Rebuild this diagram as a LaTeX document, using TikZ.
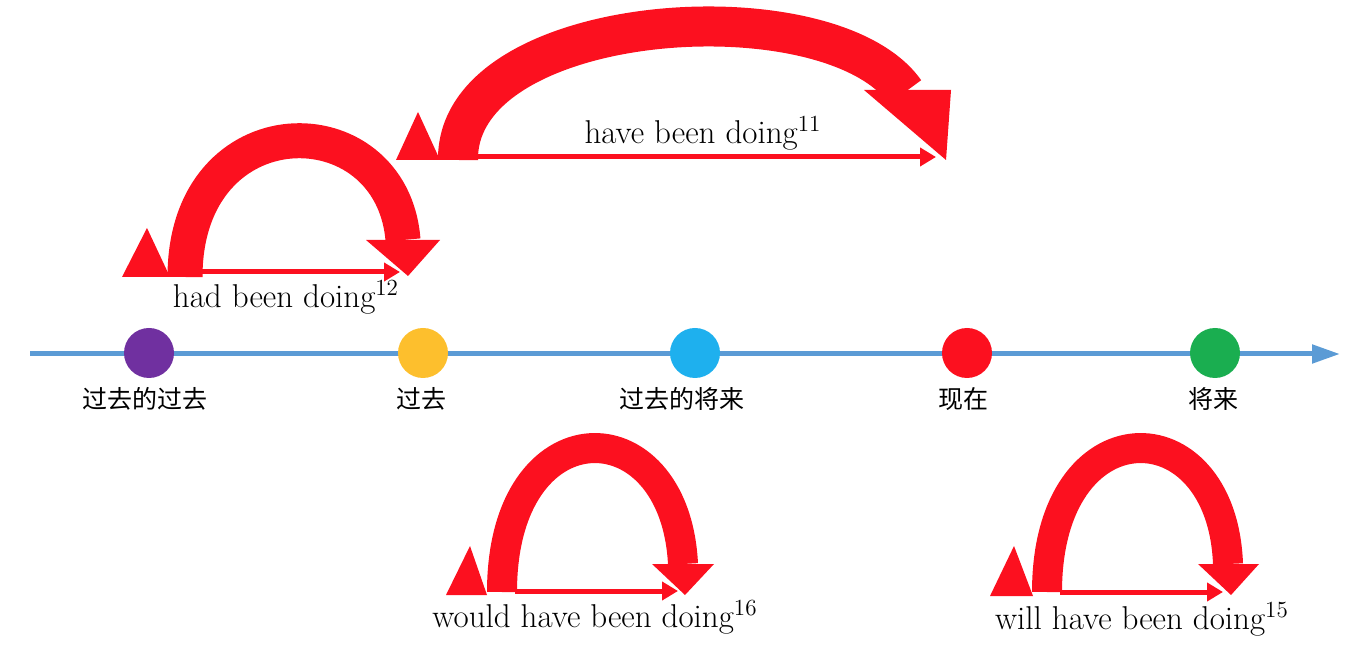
\documentclass[tikz,border=0pt]{standalone}
\usepackage{fontspec}
\newfontfamily\cjk{Noto Sans CJK SC}
\usetikzlibrary{arrows.meta}
\definecolor{rd}{HTML}{FC101F}
\definecolor{ax}{HTML}{5B9BD5}
\definecolor{cp}{HTML}{7030A0}
\definecolor{cy}{HTML}{FDBF2D}
\definecolor{cb}{HTML}{1EB0EE}
\definecolor{cr}{HTML}{FC101F}
\definecolor{cg}{HTML}{1AAE50}
\tikzset{
  band/.style={draw=rd},
  head/.style={fill=rd},
  thin/.style={draw=rd, line width=2.5pt, -{Triangle[length=8pt,width=9pt]}},
  dot/.style={circle, minimum size=25pt, inner sep=0pt, fill=#1},
  lab/.style={font=\cjk\fontsize{12.5}{14}\selectfont, inner sep=0pt},
  tense/.style={font=\fontsize{16.5}{18}\selectfont, inner sep=0pt},
}
\begin{document}
\begin{tikzpicture}[x=0.5pt,y=-0.5pt]
\useasboundingbox (0,0) rectangle (1368,656);
% timeline
\coordinate (t0) at (30,354);
\coordinate (t1) at (1340,354);
\draw[ax, line width=2.5pt, -{Triangle[length=14pt,width=9pt]}] (t0) -- (t1);
\node[dot=cp] (d1) at (149,353) {};
\node[dot=cy] (d2) at (423,353) {};
\node[dot=cb] (d3) at (695,353) {};
\node[dot=cr] (d4) at (967,353) {};
\node[dot=cg] (d5) at (1215,353) {};
\node[lab] (l1) at (145,399) {过去的过去};
\node[lab] (l2) at (421,399) {过去};
\node[lab] (l3) at (682,399) {过去的将来};
\node[lab] (l4) at (963,399) {现在};
\node[lab] (l5) at (1213,399) {将来};
% arc 1
\draw[band, line width=17.5pt] (185,277) .. controls (185,102) and (392,102) .. (403,240);
\fill[head] (366,240) -- (440,240) -- (408,276) -- cycle;
\fill[head] (122,277) -- (147,228) -- (170,277) -- cycle;
\coordinate (a1s) at (200,272); \coordinate (a1e) at (400,272);
\draw[thin] (a1s) -- (a1e);
\node[tense] (n1) at (286,297) {had been doing\textsuperscript{12}};
% arc 2
\draw[band, line width=20pt] (458,160) .. controls (456,10) and (830,-15) .. (905,92);
\fill[head] (864,90) -- (951,90) -- (946,160) -- cycle;
\fill[head] (396,160) -- (418,112) -- (440,160) -- cycle;
\coordinate (a2s) at (474,157); \coordinate (a2e) at (936,157);
\draw[thin] (a2s) -- (a2e);
\node[tense] (n2) at (703,133) {have been doing\textsuperscript{11}};
% arc 3
\draw[band, line width=15pt] (502,592) .. controls (502,405) and (675,405) .. (683,564);
\fill[head] (652,564) -- (714,564) -- (685,595) -- cycle;
\fill[head] (446,595) -- (470,546) -- (487,595) -- cycle;
\coordinate (a3s) at (515,591); \coordinate (a3e) at (678,591);
\draw[thin] (a3s) -- (a3e);
\node[tense] (n3) at (595,617) {would have been doing\textsuperscript{16}};
% arc 4
\draw[band, line width=15pt] (1047,592) .. controls (1047,405) and (1222,405) .. (1228,564);
\fill[head] (1198,564) -- (1259,564) -- (1231,595) -- cycle;
\fill[head] (990,596) -- (1014,546) -- (1033,596) -- cycle;
\coordinate (a4s) at (1060,592); \coordinate (a4e) at (1223,592);
\draw[thin] (a4s) -- (a4e);
\node[tense] (n4) at (1142,619) {will have been doing\textsuperscript{15}};
\end{tikzpicture}
\end{document}
